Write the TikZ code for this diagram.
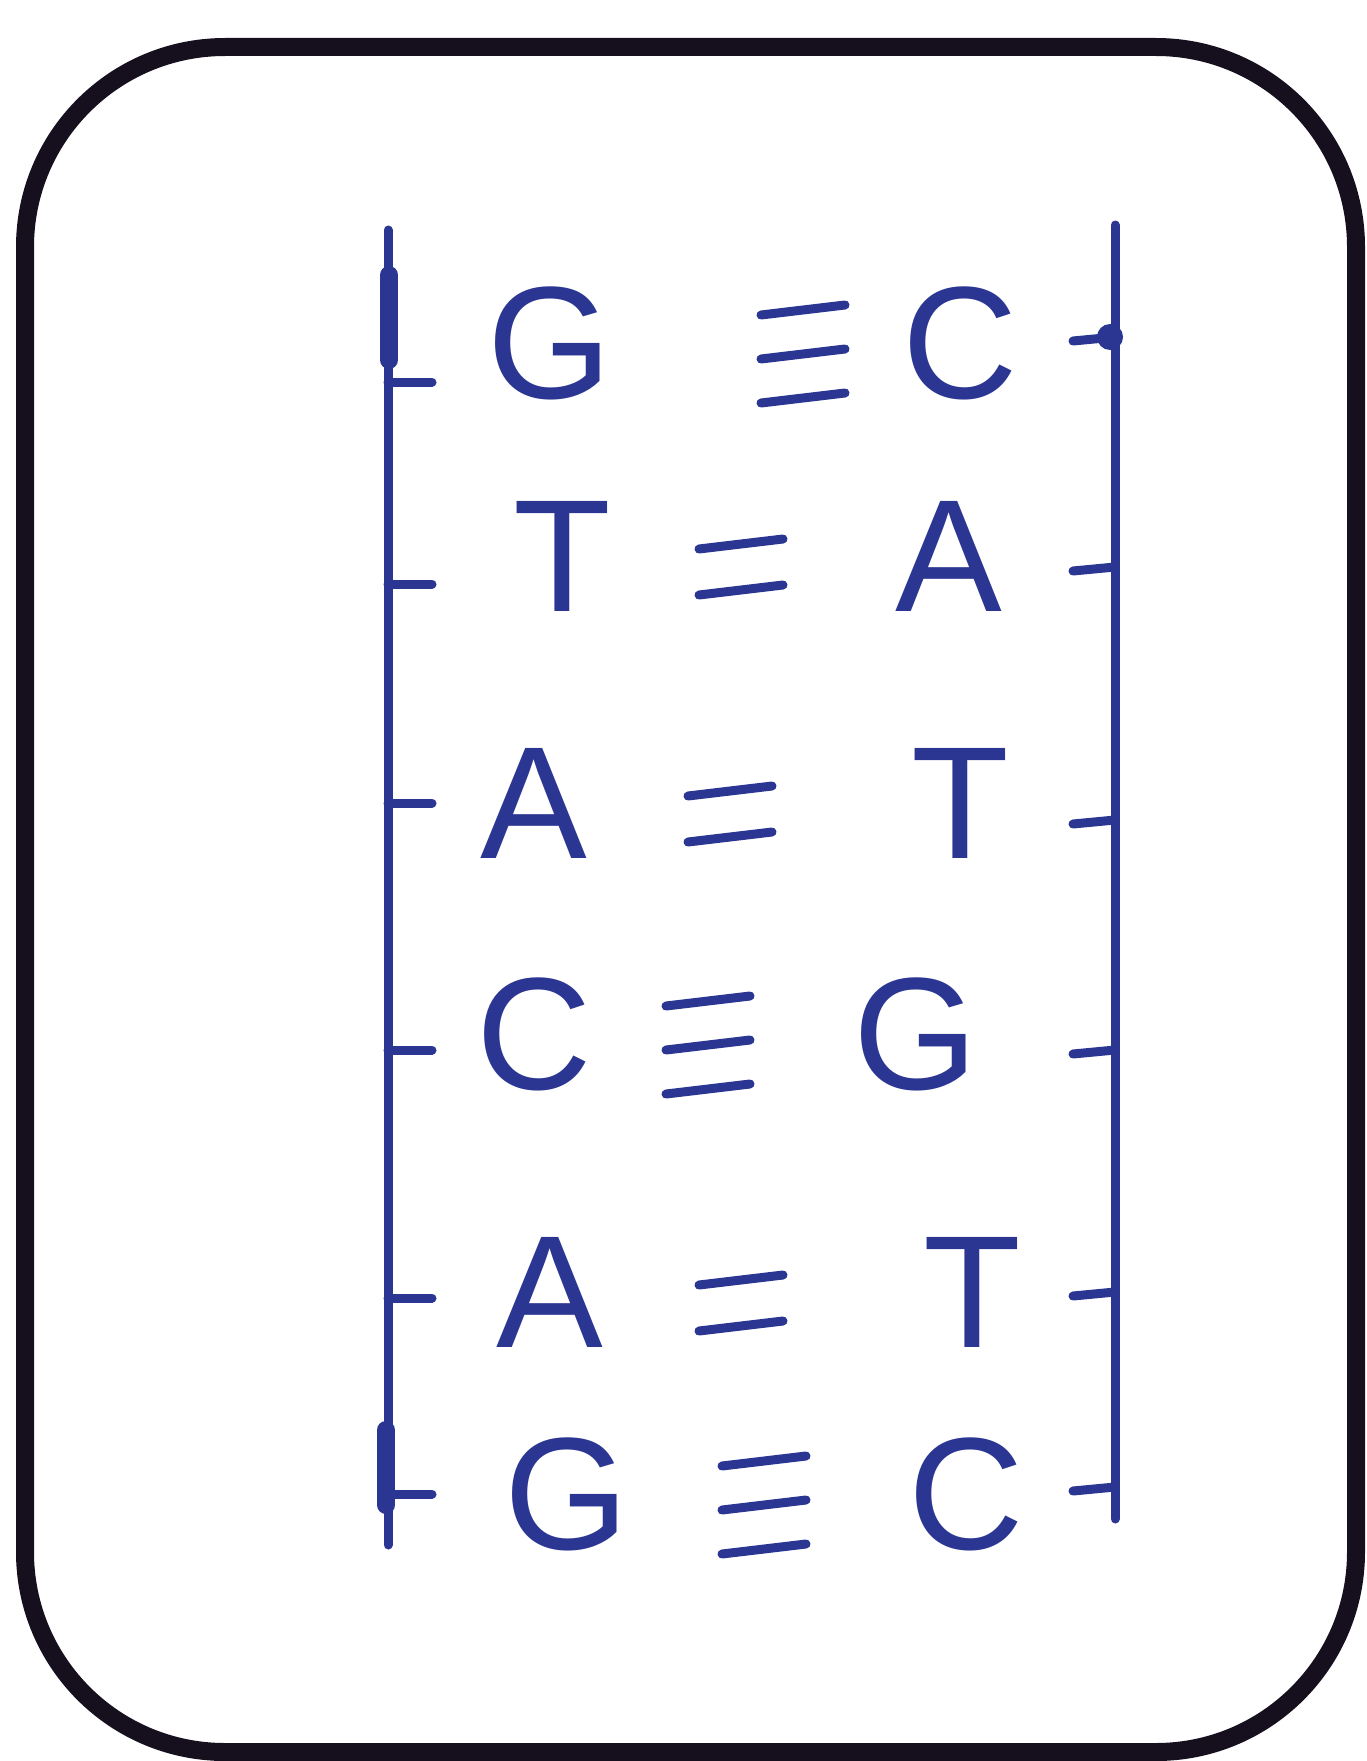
\documentclass[tikz,border=0pt]{standalone}
\usepackage{fontspec}
\setmainfont{Liberation Sans}
\usetikzlibrary{positioning,calc}
\definecolor{StrandInk}{HTML}{2B3592}
\definecolor{FrameInk}{HTML}{16101E}

\begin{document}
\begin{tikzpicture}[x=1pt,y=-1pt,line cap=round,
  base/.style={StrandInk,inner sep=0pt,font=\fontsize{160}{160}\selectfont},
  strand/.style={StrandInk,line width=9pt},
  hbond/.style={StrandInk,line width=9pt}]
  \useasboundingbox (0,0) rectangle (1366,1761);
  % card
  \draw[FrameInk,line width=18pt,rounded corners=200pt] (25,47) rectangle (1356,1752);
  % the two backbones
  \coordinate (lt) at (388,230);
  \coordinate (lb) at (388,1545);
  \coordinate (rt) at (1115,225);
  \coordinate (rb) at (1115,1519);
  \draw[strand] (lt) -- (lb);
  \draw[strand] (rt) -- (rb);
  \draw[StrandInk,line width=18pt] (389,275) -- (389,360);
  \draw[StrandInk,line width=18pt] (386,1430) -- (386,1505);
  % base pairs: row/left/right/y/left x/right x/bond x/bonds/left tick/right tick
  \foreach \i/\l/\r/\y/\lx/\rx/\bx/\n/\lt/\rt in
    {1/G/C/343/550/960/803/3/382/337,
     2/T/A/556/562/949/741/2/584/567,
     3/A/T/803/534/960/730/2/803/820,
     4/C/G/1034/534/916/708/3/1050/1050,
     5/A/T/1292/550/972/741/2/1298/1292,
     6/G/C/1494/567/966/764/3/1494/1487}{
    \node[base] (L\i) at (\lx,\y) {\l};
    \node[base] (R\i) at (\rx,\y) {\r};
    \coordinate (B\i) at (\bx,\y+10);
    \ifnum\n=3
      \foreach \d in {-44,0,44}
        \draw[hbond] ($(B\i)+(-42,\d+6)$) -- ++(84,-10);
    \else
      \foreach \d in {-23,23}
        \draw[hbond] ($(B\i)+(-42,\d+6)$) -- ++(84,-10);
    \fi
    \draw[strand] (lt |- 0,\lt) -- ++(44,0);
    \draw[strand] (rt |- 0,\rt) -- ++(-42,4);
  }
  \fill[StrandInk] (1110,337) circle (13pt);
\end{tikzpicture}
\end{document}
